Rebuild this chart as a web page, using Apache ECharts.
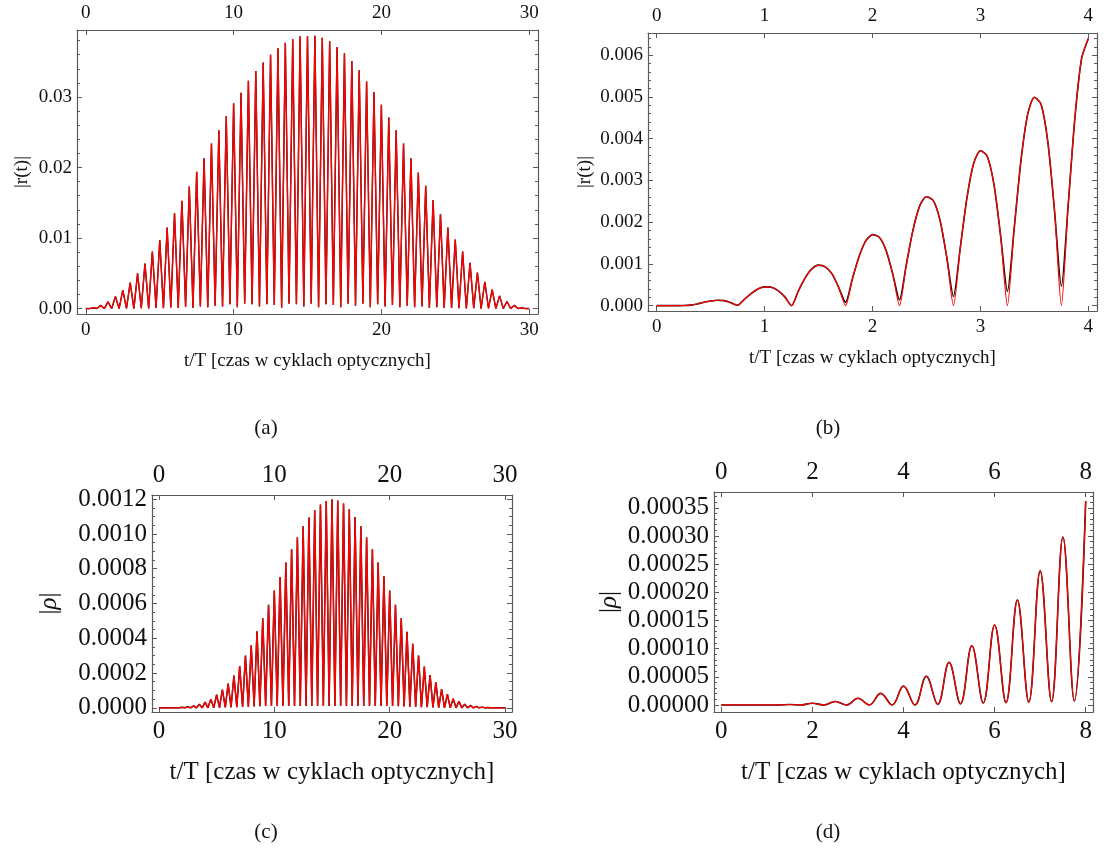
<!DOCTYPE html>
<html>
<head>
<meta charset="utf-8">
<script src="https://cdn.jsdelivr.net/npm/echarts@6/dist/echarts.min.js"></script>
<style>
html, body { margin: 0; background: #fff; }
#chart { width: 1110px; height: 858px; }
</style>
</head>
<body>
<div id="chart"></div>
<script>
// (a) |r(t)| over 30 cycles: maxima every half cycle, minima in between
const peaksA = [0, 0.00012, 0.00045, 0.00096, 0.0017, 0.0026, 0.0037, 0.0050, 0.0064, 0.0081,
  0.0097, 0.0115, 0.0135, 0.0153, 0.0173, 0.0194, 0.0213, 0.0234, 0.0253, 0.0273,
  0.0291, 0.0306, 0.0323, 0.0337, 0.0349, 0.0360, 0.0369, 0.0377, 0.0382, 0.0386,
  0.0386, 0.0387, 0.0384, 0.0379, 0.0371, 0.0362, 0.0351, 0.0338, 0.0322, 0.0307,
  0.0289, 0.0271, 0.0253, 0.0234, 0.0213, 0.0193, 0.0174, 0.0154, 0.0134, 0.0115,
  0.0098, 0.0081, 0.0065, 0.0051, 0.0038, 0.0027, 0.0018, 0.0010, 0.00045, 0.00012, 0];
const dipsA = [0, 0.00001, 0, 0, 0, 0.00002, 0, 0.00005, 0.00003, 0.0001,
  0.00006, 0.00015, 0.0001, 0.00025, 0.0001, 0.0003, 0.0002, 0.0004, 0.0003, 0.0006,
  0.0002, 0.0007, 0.0006, 0.0003, 0.0006, 0.0005, 0.0001, 0.0007, 0.0006, 0.0003,
  0.0007, 0.0002, 0.0006, 0.0005, 0.0002, 0.0007, 0.0004, 0.0007, 0.0002, 0.0006,
  0.0003, 0.0005, 0.0002, 0.0004, 0.0002, 0.0003, 0.0001, 0.0002, 0.0001, 0.0001,
  0.00005, 0.00002, 0.00004, 0, 0.00002, 0, 0, 0, 0, 0];

// (b) |r(t)| over the first 4 cycles, sampled every 1/16 cycle
const stepB = 1 / 16;
const redB = [0, 0, 0, 0, 0.000003, 0.000012, 0.00004, 0.00008, 0.00011, 0.00013,
  0.00012, 0.00007, 0.00001, 0.00015, 0.00029, 0.00040, 0.00045, 0.00044, 0.00036, 0.00021,
  0, 0.00035, 0.00066, 0.00088, 0.00097, 0.00093, 0.00076, 0.00043, 0, 0.00063,
  0.00117, 0.00155, 0.00170, 0.00164, 0.00133, 0.00076, 0, 0.00097, 0.00181, 0.00239,
  0.00261, 0.00252, 0.00205, 0.00117, 0, 0.00137, 0.00258, 0.00341, 0.00371, 0.00358,
  0.00291, 0.00166, 0, 0.00184, 0.00346, 0.00458, 0.00499, 0.00482, 0.00391, 0.00224,
  0, 0.00239, 0.00449, 0.00592, 0.00640];
// where the black (exact) curve does not reach zero
const blackDipsB = [[1.75, 0.00008], [2.25, 0.00014], [2.75, 0.00022], [3.25, 0.00034], [3.75, 0.00046]];

// (c) |rho| over 30 cycles
const peaksC = [0, 0, 0, 0.000001, 0.000003, 0.000006, 0.000011, 0.00002, 0.000033, 0.00005,
  0.000075, 0.000105, 0.00014, 0.000185, 0.00024, 0.0003, 0.00036, 0.00044, 0.000515, 0.000593,
  0.000675, 0.000753, 0.000836, 0.000914, 0.00098, 0.001044, 0.001095, 0.001138, 0.001169, 0.00119,
  0.0012, 0.001192, 0.001175, 0.001142, 0.001097, 0.001044, 0.00098, 0.000912, 0.000836, 0.000757,
  0.000675, 0.000593, 0.000515, 0.000438, 0.000368, 0.000301, 0.000237, 0.000189, 0.000146, 0.000107,
  0.000078, 0.000053, 0.000037, 0.000021, 0.000014, 0.000008, 0.000004, 0.000002, 0.000001, 0, 0];
const dipsC = [0, 0, 0, 0, 0, 0, 0, 0, 0, 0,
  0.000001, 0.000002, 0.000003, 0.000004, 0.000005, 0.000007, 0.000008, 0.000009, 0.00001, 0.00001,
  0.00001, 0.00001, 0.00001, 0.00001, 0.00001, 0.00001, 0.00001, 0.00001, 0.00001, 0.00001,
  0.00001, 0.00001, 0.00001, 0.00001, 0.00001, 0.00001, 0.00001, 0.00001, 0.00001, 0.00001,
  0.00001, 0.000009, 0.000008, 0.000007, 0.000005, 0.000004, 0.000003, 0.000002, 0.000001, 0,
  0, 0, 0, 0, 0, 0, 0, 0, 0, 0];

// (d) |rho| over the first 8 cycles
const peaksD = [0, 0, 0, 0.0000008, 0.000003, 0.0000062, 0.0000118, 0.0000205, 0.0000335, 0.000051,
  0.0000755, 0.000105, 0.000142, 0.000186, 0.000238, 0.000298, 0.000362];
const dipsD = [0, 0, 0, 0, 0, 0, 0, 0, 0, 0.000001, 0.000002, 0.0000035, 0.000004, 0.000005, 0.000006, 0.000007];

// tick labels
const ticksX30 = [0, 10, 20, 30];
const ticksX4 = [0, 1, 2, 3, 4];
const ticksX8 = [0, 2, 4, 6, 8];
const ticksYA = [0, 0.01, 0.02, 0.03];
const ticksYB = [0, 0.001, 0.002, 0.003, 0.004, 0.005, 0.006];
const ticksYC = [0, 0.0002, 0.0004, 0.0006, 0.0008, 0.0010, 0.0012];
const ticksYD = [0, 0.00005, 0.0001, 0.00015, 0.0002, 0.00025, 0.0003, 0.00035];

const xTitle = 't/T [czas w cyklach optycznych]';
const FONT = '"Liberation Serif", "Times New Roman", serif';
const FRAME = '#5a5a5a';

// peaks at whole half-cycles, dips a quarter cycle later
function weave(peaks, dips) {
  const out = [];
  peaks.forEach((p, k) => {
    out.push([k * 0.5, p]);
    if (k < dips.length) out.push([k * 0.5 + 0.25, dips[k]]);
  });
  return out;
}

function steps(from, to, step) {
  const out = [];
  for (let i = 0; from + i * step <= to + 1e-12; i++) out.push(+(from + i * step).toPrecision(10));
  return out;
}

const dataA = weave(peaksA, dipsA);
const dataB = redB.map((v, i) => [i * stepB, v]);
const blackB = dataB.map(p => {
  const hit = blackDipsB.find(d => Math.abs(d[0] - p[0]) < 1e-9);
  return hit ? [p[0], hit[1]] : p;
});
const dataC = weave(peaksC, dipsC);
const dataD = weave(peaksD, dipsD);

const panels = [
  { grid: { left: 77, top: 30, width: 461, height: 284 }, xMin: -0.6, xMax: 30.6, xTicks: ticksX30,
    yMin: -0.00077, yMax: 0.0395, yTicks: ticksYA, yMinor: steps(0, 0.038, 0.002), digits: 2,
    font: 19, xGap: 38, yGap: 45, yName: '|r(t)|', red: dataA, black: dataA, smooth: false, bw: 1.4, rw: 1.3 },
  { grid: { left: 648, top: 33, width: 449, height: 278 }, xMin: -0.08, xMax: 4.08, xTicks: ticksX4,
    yMin: -0.000128, yMax: 0.00653, yTicks: ticksYB, yMinor: steps(0, 0.0064, 0.0002), digits: 3,
    font: 19, xGap: 38, yGap: 53, yName: '|r(t)|', red: dataB, black: blackB, smooth: 0.25, bw: 1.6, rw: 1.2 },
  { grid: { left: 152, top: 495, width: 360, height: 217 }, xMin: -0.6, xMax: 30.6, xTicks: ticksX30,
    yMin: -0.000024, yMax: 0.001224, yTicks: ticksYC, yMinor: steps(0, 0.0012, 0.00005), digits: 4,
    font: 25, xGap: 48, yGap: 90, yName: '|{i|ρ}|', red: dataC, black: dataC, smooth: false, bw: 1.5, rw: 1.35 },
  { grid: { left: 714, top: 492, width: 379, height: 220 }, xMin: -0.16, xMax: 8.16, xTicks: ticksX8,
    yMin: -0.0000125, yMax: 0.000378, yTicks: ticksYD, yMinor: steps(0, 0.00037, 0.00001), digits: 5,
    font: 25, xGap: 48, yGap: 92, yName: '|{i|ρ}|', red: dataD, black: dataD, smooth: 0.4, bw: 1.6, rw: 1.2 }
];

const grid = [], xAxis = [], yAxis = [], series = [];

panels.forEach((p, g) => {
  grid.push(p.grid);
  const textStyle = { fontFamily: FONT, fontSize: p.font, color: '#111' };
  ['bottom', 'top'].forEach(pos => {
    xAxis.push({
      type: 'value', gridIndex: g, position: pos, min: p.xMin, max: p.xMax,
      axisLine: { show: true, onZero: false, lineStyle: { color: FRAME, width: 1.2 } },
      axisTick: { show: true, inside: true, length: 5, customValues: p.xTicks, lineStyle: { color: FRAME } },
      axisLabel: Object.assign({ show: true, customValues: p.xTicks, margin: 7 }, textStyle),
      splitLine: { show: false },
      name: pos === 'bottom' ? xTitle : '', nameLocation: 'middle', nameGap: p.xGap,
      nameTextStyle: textStyle
    });
  });
  ['left', 'right'].forEach(pos => {
    yAxis.push({
      type: 'value', gridIndex: g, position: pos, min: p.yMin, max: p.yMax,
      axisLine: { show: true, onZero: false, lineStyle: { color: FRAME, width: 1.2 } },
      axisTick: { show: true, inside: true, length: 5, customValues: p.yTicks, lineStyle: { color: FRAME } },
      axisLabel: Object.assign({
        show: pos === 'left', customValues: p.yTicks, margin: 5,
        formatter: v => v.toFixed(p.digits)
      }, textStyle),
      splitLine: { show: false },
      name: pos === 'left' ? p.yName : '', nameLocation: 'middle', nameGap: p.yGap,
      nameTextStyle: Object.assign({ rich: { i: { fontFamily: FONT, fontSize: p.font, fontStyle: 'italic', color: '#111' } } }, textStyle)
    });
    yAxis.push({
      type: 'value', gridIndex: g, position: pos, min: p.yMin, max: p.yMax,
      axisLine: { show: false, onZero: false },
      axisTick: { show: true, inside: true, length: 3, customValues: p.yMinor, lineStyle: { color: FRAME } },
      axisLabel: { show: false },
      splitLine: { show: false }
    });
  });
  const base = { type: 'line', xAxisIndex: 2 * g, yAxisIndex: 4 * g, showSymbol: false, symbol: 'none',
    smooth: p.smooth, animation: false, silent: true };
  series.push(Object.assign({}, base, { data: p.black, lineStyle: { color: '#111', width: p.bw }, z: 2 }));
  series.push(Object.assign({}, base, { data: p.red, lineStyle: { color: '#ff0000', width: p.rw }, z: 3 }));
});

const captions = [['(a)', 266, 428], ['(b)', 828, 428], ['(c)', 266, 832], ['(d)', 828, 832]];

const chart = echarts.init(document.getElementById('chart'), null, { renderer: 'canvas' });
chart.setOption({
  backgroundColor: '#fff',
  animation: false,
  grid, xAxis, yAxis, series,
  graphic: captions.map(c => ({
    type: 'text', x: c[1], y: c[2],
    style: { text: c[0], fontFamily: FONT, fontSize: 21, fill: '#111', textAlign: 'center', textVerticalAlign: 'middle' }
  }))
});
</script>
</body>
</html>
